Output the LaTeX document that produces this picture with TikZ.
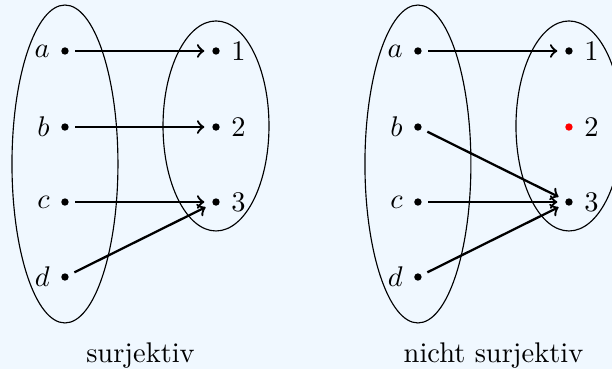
\documentclass[tikz,border=0pt]{standalone}
\usepackage{amsmath}
\usepackage{amssymb}
\usetikzlibrary{positioning}
\definecolor{bgblue}{RGB}{240,248,255}

\begin{document}
\begin{tikzpicture}[
  pt/.style={circle, fill=black, inner sep=0pt, minimum size=2.6pt},
  ptred/.style={circle, fill=red, inner sep=0pt, minimum size=2.6pt},
  lbl/.style={inner sep=0pt},
  set/.style={draw=black, thin},
  map/.style={->, thick, shorten <=2.2pt, shorten >=2.6pt}
]
\fill[bgblue] (0,0) rectangle (7.565,-4.561);
\useasboundingbox (0,0) rectangle (7.565,-4.561);

% surjektiv
\draw[set] (0.803,-2.027) ellipse [x radius=0.655, y radius=1.965];
\draw[set] (2.670,-1.557) ellipse [x radius=0.655, y radius=1.298];

\node (A) at (0.803,-0.630) [pt] {};
\node (B) at (0.803,-1.570) [pt] {};
\node (C) at (0.803,-2.497) [pt] {};
\node (D) at (0.803,-3.424) [pt] {};
\node (One) at (2.670,-0.630) [pt] {};
\node (Two) at (2.670,-1.570) [pt] {};
\node (Three) at (2.670,-2.497) [pt] {};

\node (la) [lbl, left=0.13cm of A] {$a$};
\node (lb) [lbl, left=0.13cm of B] {$b$};
\node (lc) [lbl, left=0.13cm of C] {$c$};
\node (ld) [lbl, left=0.13cm of D] {$d$};
\node (lOne) [lbl, right=0.13cm of One] {$1$};
\node (lTwo) [lbl, right=0.13cm of Two] {$2$};
\node (lThree) [lbl, right=0.13cm of Three] {$3$};

\draw [map] (A) -- (One);
\draw [map] (B) -- (Two);
\draw [map] (C) -- (Three);
\draw [map] (D) -- (Three);

\node (capL) at (1.737,-4.39) {surjektiv};

% nicht surjektiv
\draw[set] (5.166,-2.027) ellipse [x radius=0.655, y radius=1.965];
\draw[set] (7.033,-1.557) ellipse [x radius=0.655, y radius=1.298];

\node (An) at (5.166,-0.630) [pt] {};
\node (Bn) at (5.166,-1.570) [pt] {};
\node (Cn) at (5.166,-2.497) [pt] {};
\node (Dn) at (5.166,-3.424) [pt] {};
\node (Onen) at (7.033,-0.630) [pt] {};
\node (Twon) at (7.033,-1.570) [ptred] {};
\node (Threen) at (7.033,-2.497) [pt] {};

\node (lan) [lbl, left=0.13cm of An] {$a$};
\node (lbn) [lbl, left=0.13cm of Bn] {$b$};
\node (lcn) [lbl, left=0.13cm of Cn] {$c$};
\node (ldn) [lbl, left=0.13cm of Dn] {$d$};
\node (lOnen) [lbl, right=0.13cm of Onen] {$1$};
\node (lTwon) [lbl, right=0.13cm of Twon] {$2$};
\node (lThreen) [lbl, right=0.13cm of Threen] {$3$};

\draw [map] (An) -- (Onen);
\draw [map] (Bn) -- (Threen);
\draw [map] (Cn) -- (Threen);
\draw [map] (Dn) -- (Threen);

\node (capR) at (6.100,-4.39) {nicht surjektiv};

\end{tikzpicture}
\end{document}
